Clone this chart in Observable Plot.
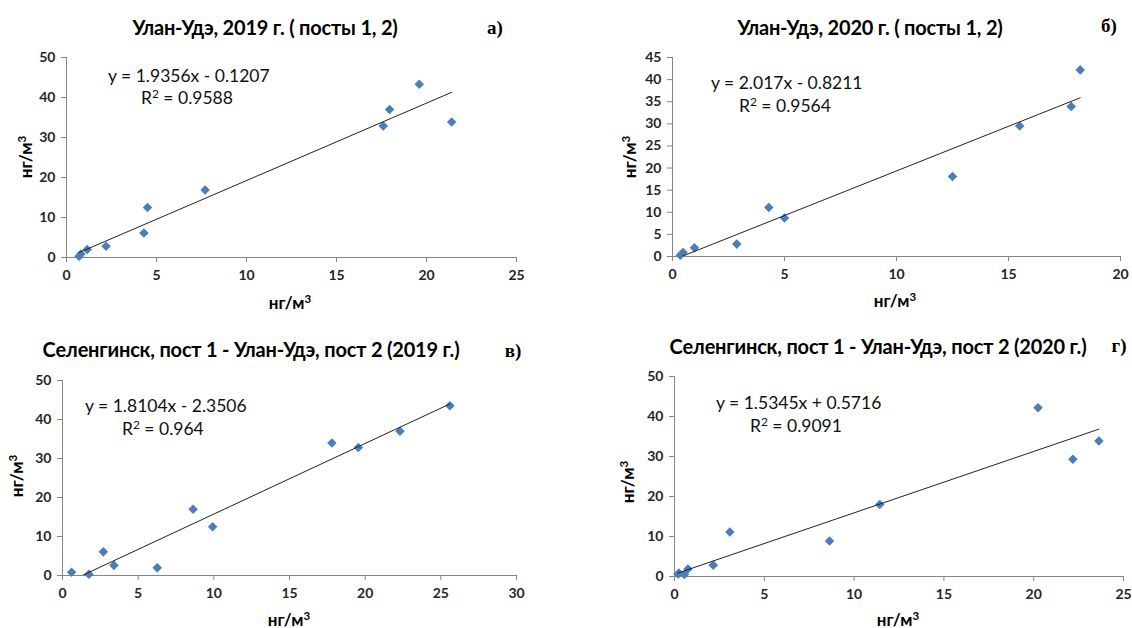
<!DOCTYPE html>
<html>
<head>
<meta charset="utf-8">
<script src="https://cdn.jsdelivr.net/npm/d3@7"></script>
<script src="https://cdn.jsdelivr.net/npm/@observablehq/plot@0.6"></script>
<style>
  html, body { margin: 0; padding: 0; background: #fff; }
  #root { position: relative; width: 1132px; height: 628px; overflow: hidden; font-family: Lato, "Open Sans", sans-serif; }
  .panel { position: absolute; width: 566px; height: 314px; }
  .lbl { position: absolute; white-space: nowrap; color: #000; line-height: 1; }
  .lbl sup { font-size: 0.68em; vertical-align: 0.5em; line-height: 0; }
  .c { transform: translate(-50%, -50%); }
  .l { transform: translate(0, -50%); }
  .title { font-weight: bold; font-size: 20px; letter-spacing: -0.2px; }
  .tag { font-family: "Liberation Serif", "DejaVu Serif", serif; font-weight: bold; font-size: 19px; }
  .eq { font-size: 17.5px; color: #111; }
  .ax { font-weight: bold; font-size: 17px; }
  .rot { transform: translate(-50%, -50%) rotate(-90deg); }
</style>
</head>
<body>
<div id="root"></div>
<script>
// Panel а) Улан-Удэ 2019 (посты 1, 2)
const aX = [0.7, 0.8, 1.15, 2.2, 4.3, 4.5, 7.7, 17.6, 17.95, 19.6, 21.4];
const aY = [0.3, 0.9, 2.0, 2.8, 6.1, 12.5, 16.9, 32.9, 37.0, 43.3, 33.9];
const aFit = [1.9356, -0.1207];
// Panel б) Улан-Удэ 2020 (посты 1, 2)
const bX = [0.35, 0.47, 0.98, 2.87, 4.3, 5.0, 12.5, 15.5, 17.8, 18.2];
const bY = [0.3, 0.9, 2.0, 2.8, 11.1, 8.7, 18.1, 29.5, 33.9, 42.2];
const bFit = [2.017, -0.8211];
// Panel в) Селенгинск пост 1 - Улан-Удэ пост 2 (2019)
const cX = [0.6, 1.75, 2.7, 3.4, 6.26, 8.63, 9.92, 17.8, 19.55, 22.3, 25.6];
const cY = [0.85, 0.3, 6.06, 2.6, 1.96, 17.0, 12.5, 34.0, 32.8, 37.0, 43.5];
const cFit = [1.8104, -2.3506];
// Panel г) Селенгинск пост 1 - Улан-Удэ пост 2 (2020)
const dX = [0.2, 0.25, 0.55, 0.75, 2.16, 3.08, 8.63, 11.43, 20.24, 22.18, 23.63];
const dY = [0.6, 0.9, 0.5, 1.9, 2.84, 11.1, 8.85, 18.0, 42.2, 29.3, 33.9];
const dFit = [1.5345, 0.5716];

const titles = [
  "Улан-Удэ, 2019 г. ( посты 1, 2)",
  "Улан-Удэ, 2020 г. ( посты 1, 2)",
  "Селенгинск, пост 1 - Улан-Удэ, пост 2 (2019 г.)",
  "Селенгинск, пост 1 - Улан-Удэ, пост 2 (2020 г.)"
];
const tags = ["а)", "б)", "в)", "г)"];
const equations = ["y = 1.9356x - 0.1207", "y = 2.017x - 0.8211", "y = 1.8104x - 2.3506", "y = 1.5345x + 0.5716"];
const r2Values = ["0.9588", "0.9564", "0.964", "0.9091"];
const axisLabelHTML = "нг/м<sup>3</sup>";

const xTicksA = [0, 5, 10, 15, 20, 25], yTicksA = [0, 10, 20, 30, 40, 50];
const xTicksB = [0, 5, 10, 15, 20], yTicksB = [0, 5, 10, 15, 20, 25, 30, 35, 40, 45];
const xTicksC = [0, 5, 10, 15, 20, 25, 30], yTicksC = [0, 10, 20, 30, 40, 50];
const xTicksD = [0, 5, 10, 15, 20, 25], yTicksD = [0, 10, 20, 30, 40, 50];

const panels = [
  {xs: aX, ys: aY, fit: aFit, xt: xTicksA, yt: yTicksA, left: 0, top: 0,
   m: {marginLeft: 66, marginRight: 50, marginTop: 57, marginBottom: 57},
   title: [265, 27], tag: [495, 27], eq: [108, 76], r2: [141, 98], yl: [25, 157], xl: [290, 302]},
  {xs: bX, ys: bY, fit: bFit, xt: xTicksB, yt: yTicksB, left: 566, top: 0,
   m: {marginLeft: 106, marginRight: 12, marginTop: 57, marginBottom: 58},
   title: [870, 27], tag: [1109, 25], eq: [711, 83], r2: [739, 106], yl: [629, 157], xl: [895, 300]},
  {xs: cX, ys: cY, fit: cFit, xt: xTicksC, yt: yTicksC, left: 0, top: 314,
   m: {marginLeft: 62, marginRight: 50, marginTop: 66, marginBottom: 53},
   title: [251, 349], tag: [513, 350], eq: [85, 406], r2: [122, 429], yl: [16, 476], xl: [289, 619]},
  {xs: dX, ys: dY, fit: dFit, xt: xTicksD, yt: yTicksD, left: 566, top: 314,
   m: {marginLeft: 108, marginRight: 9, marginTop: 62, marginBottom: 52},
   title: [878, 346], tag: [1119, 345], eq: [716, 403], r2: [750, 426], yl: [627, 482], xl: [898, 619]}
];

const root = document.getElementById("root");
const axisGray = "#868686";

function addLabel(html, cls, pos) {
  const el = document.createElement("div");
  el.className = "lbl " + cls;
  el.innerHTML = html;
  el.style.left = pos[0] + "px";
  el.style.top = pos[1] + "px";
  root.appendChild(el);
}

panels.forEach((p, i) => {
  const pts = p.xs.map((x, j) => ({x, y: p.ys[j]}));
  const [slope, intercept] = p.fit;
  const trend = d3.extent(p.xs).map(x => ({x, y: slope * x + intercept}));
  const xDom = d3.extent(p.xt), yDom = d3.extent(p.yt);
  const chart = Plot.plot({
    width: 566, height: 314, ...p.m,
    style: {fontFamily: "Lato, sans-serif", background: "transparent", overflow: "visible"},
    x: {domain: xDom},
    y: {domain: yDom},
    marks: [
      Plot.axisX({ticks: p.xt, tickSize: 5, tickPadding: 8, stroke: axisGray, color: "#262626", fontSize: 14, fontWeight: "bold", label: null}),
      Plot.axisY({ticks: p.yt, tickSize: 5, tickPadding: 6, stroke: axisGray, color: "#262626", fontSize: 14, fontWeight: "bold", label: null}),
      Plot.ruleY([yDom[0]], {stroke: axisGray}),
      Plot.ruleX([xDom[0]], {stroke: axisGray}),
      Plot.dot(pts, {x: "x", y: "y", symbol: "diamond2", r: 4.3, fill: "#4A7EBB", stroke: "none"}),
      Plot.line(trend, {x: "x", y: "y", stroke: "#222", strokeWidth: 1, clip: true})
    ]
  });
  chart.classList.add("panel");
  chart.style.left = p.left + "px";
  chart.style.top = p.top + "px";
  chart.style.position = "absolute";
  root.appendChild(chart);

  addLabel(titles[i], "title c", p.title);
  addLabel(tags[i], "tag c", p.tag);
  addLabel(equations[i], "eq l", p.eq);
  addLabel("R<sup>2</sup> = " + r2Values[i], "eq l", p.r2);
  addLabel(axisLabelHTML, "ax rot", p.yl);
  addLabel(axisLabelHTML, "ax c", p.xl);
});
</script>
</body>
</html>
